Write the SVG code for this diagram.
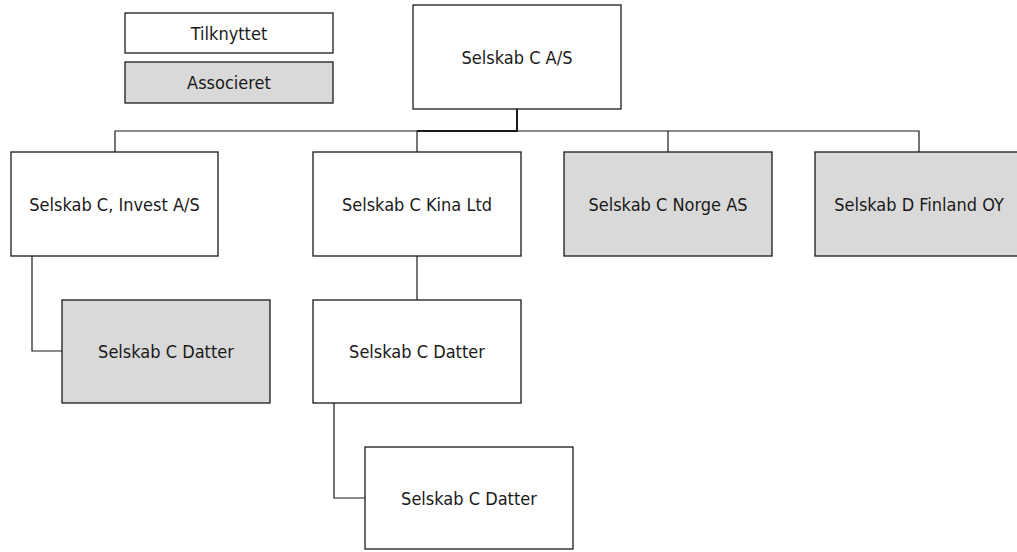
<svg xmlns="http://www.w3.org/2000/svg" width="1017" height="552" viewBox="0 0 1017 552">
<style>
.box{fill:#ffffff;stroke:#1a1a1a;stroke-width:1.3}
.grey{fill:#d9d9d9}
.lbl{font-family:"DejaVu Sans Condensed","DejaVu Sans","Liberation Sans",sans-serif;font-stretch:condensed;font-size:18px;fill:#1a1a1a;text-anchor:middle;dominant-baseline:central}
.ln{fill:none;stroke:#1a1a1a;stroke-width:1.2}
.thick{stroke-width:2}
</style>
<rect width="1017" height="552" fill="#ffffff"/>
<g id="connectors">
<line class="ln thick" x1="517" y1="109" x2="517" y2="131"/>
<polyline class="ln" points="115,152 115,131 919,131 919,152"/>
<line class="ln thick" x1="417" y1="131" x2="518" y2="131"/>
<line class="ln" x1="417" y1="131" x2="417" y2="152"/>
<line class="ln" x1="668" y1="131" x2="668" y2="152"/>
<polyline class="ln" points="32,256 32,351 62,351"/>
<line class="ln" x1="417" y1="256" x2="417" y2="300"/>
<polyline class="ln" points="334,403 334,498 365,498"/>
</g>
<g id="legend-tilknyttet">
<rect class="box" x="125" y="13" width="208" height="40"/>
<text class="lbl" x="229" y="33">Tilknyttet</text>
</g>
<g id="legend-associeret">
<rect class="box grey" x="125" y="62" width="208" height="41"/>
<text class="lbl" x="229" y="82.5">Associeret</text>
</g>
<g id="node-top">
<rect class="box" x="413" y="5" width="208" height="104"/>
<text class="lbl" x="517" y="57">Selskab C A/S</text>
</g>
<g id="node-invest">
<rect class="box" x="11" y="152" width="207" height="104"/>
<text class="lbl" x="114.5" y="204">Selskab C, Invest A/S</text>
</g>
<g id="node-kina">
<rect class="box" x="313" y="152" width="208" height="104"/>
<text class="lbl" x="417" y="204">Selskab C Kina Ltd</text>
</g>
<g id="node-norge">
<rect class="box grey" x="564" y="152" width="208" height="104"/>
<text class="lbl" x="668" y="204">Selskab C Norge AS</text>
</g>
<g id="node-finland">
<rect class="box grey" x="815" y="152" width="208" height="104"/>
<text class="lbl" x="919" y="204">Selskab D Finland OY</text>
</g>
<g id="node-datter-1">
<rect class="box grey" x="62" y="300" width="208" height="103"/>
<text class="lbl" x="166" y="351">Selskab C Datter</text>
</g>
<g id="node-datter-2">
<rect class="box" x="313" y="300" width="208" height="103"/>
<text class="lbl" x="417" y="351">Selskab C Datter</text>
</g>
<g id="node-datter-3">
<rect class="box" x="365" y="447" width="208" height="102"/>
<text class="lbl" x="469" y="498">Selskab C Datter</text>
</g>
</svg>
